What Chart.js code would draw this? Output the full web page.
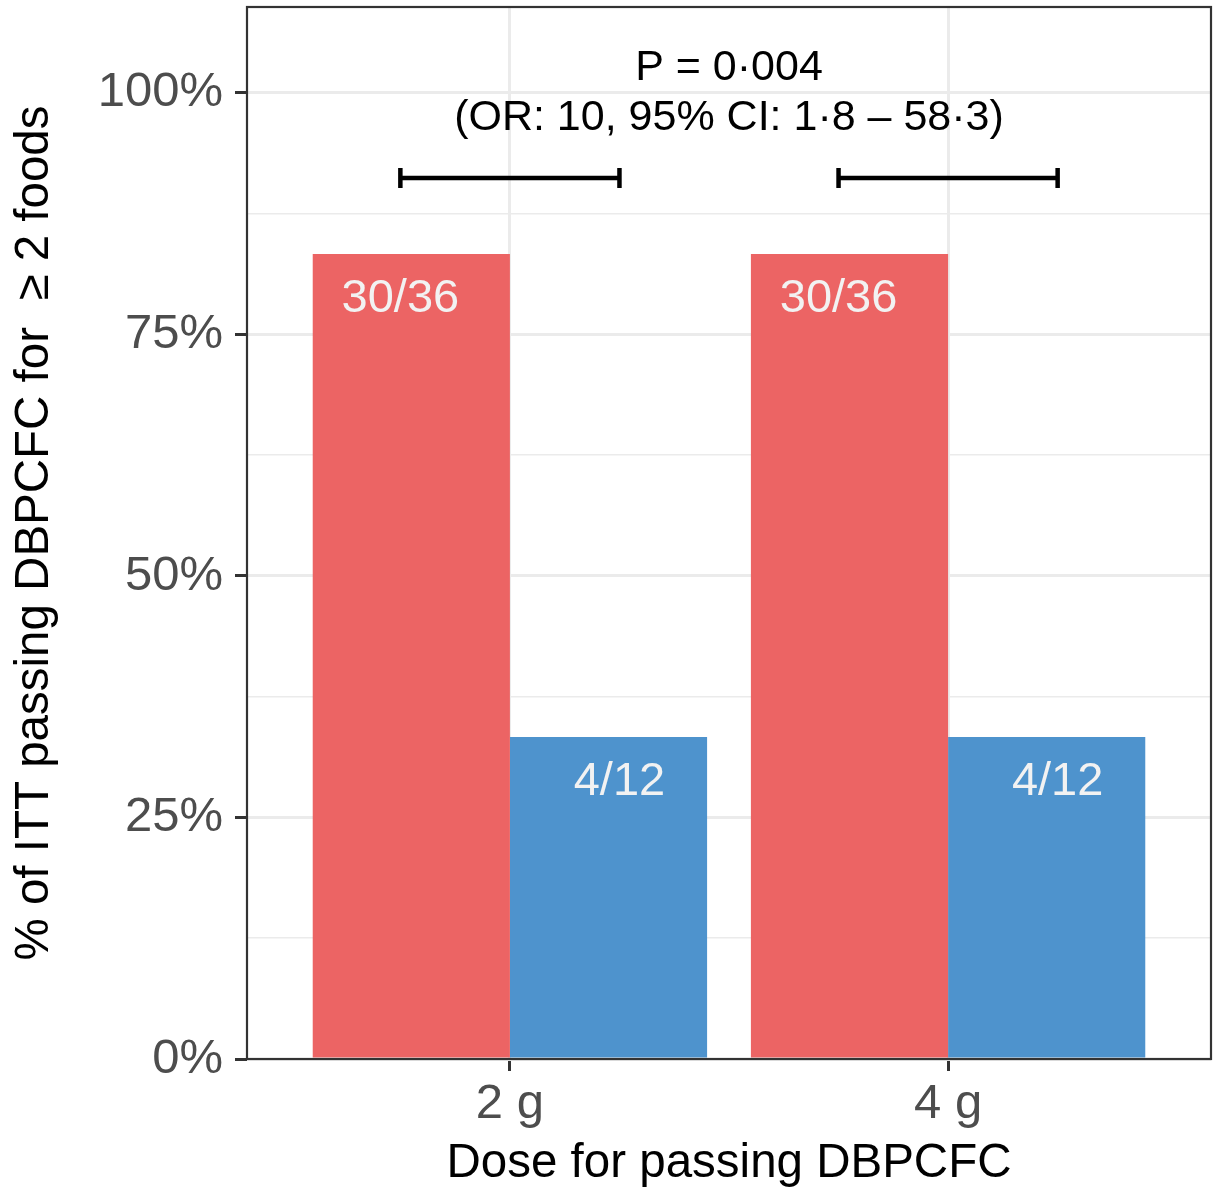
<!DOCTYPE html>
<html>
<head>
<meta charset="utf-8">
<script src="https://cdn.jsdelivr.net/npm/chart.js@4"></script>
<style>
  html, body { margin: 0; padding: 0; background: #fff; }
  canvas { display: block; }
</style>
</head>
<body>
<canvas id="chart" width="1216" height="1191"></canvas>
<script>
const doseLabels   = ["2 g", "4 g"];
const doseX        = [1, 2];
const passA        = [30, 30];   // red group
const totalA       = [36, 36];
const passB        = [4, 4];     // blue group
const totalB       = [12, 12];
const yTicks       = [0, 12.5, 25, 37.5, 50, 62.5, 75, 87.5, 100];
const bracketY     = 91.2;
const bracketHalf  = 0.25;
const statLines    = ["P = 0·004", "(OR: 10, 95% CI: 1·8 – 58·3)"];
const statLineY    = [102.6, 97.4];
const statX        = 1.5;

const RED    = "#EC6464";
const BLUE   = "#4E93CD";
const FONT   = "'Liberation Sans', Arial, Helvetica, sans-serif";
const GRID   = "#EBEBEB";
const DARK   = "#333333";
const LABEL_DROP = 4.7;

Chart.defaults.font.family = FONT;

const pctA = passA.map((n, i) => 100 * n / totalA[i]);
const pctB = passB.map((n, i) => 100 * n / totalB[i]);

function bracketData(center) {
  return [
    { x: center - bracketHalf, y: bracketY },
    { x: center + bracketHalf, y: bracketY }
  ];
}

/* ── Plugin: panel border, labels, titles ─────────────── */
const decorPlugin = {
  id: "decor",
  afterDatasetsDraw(chart) {
    const { ctx, chartArea: a, scales: { x, y } } = chart;
    ctx.save();

    // bar count labels
    ctx.fillStyle = "#F2F2F2";
    ctx.font = `47px ${FONT}`;
    ctx.textAlign = "center";
    ctx.textBaseline = "middle";
    doseX.forEach((d, i) => {
      ctx.fillText(`${passA[i]}/${totalA[i]}`, x.getPixelForValue(d - bracketHalf), y.getPixelForValue(pctA[i] - LABEL_DROP));
      ctx.fillText(`${passB[i]}/${totalB[i]}`, x.getPixelForValue(d + bracketHalf), y.getPixelForValue(pctB[i] - LABEL_DROP));
    });

    // p-value text
    ctx.fillStyle = "#000";
    ctx.font = `43px ${FONT}`;
    statLines.forEach((t, i) => {
      ctx.fillText(t, x.getPixelForValue(statX), y.getPixelForValue(statLineY[i]));
    });

    // panel border
    ctx.strokeStyle = DARK;
    ctx.lineWidth = 2.2;
    ctx.strokeRect(a.left, a.top, a.right - a.left, a.bottom - a.top);

    // axis titles
    ctx.fillStyle = "#000";
    ctx.font = `47.5px ${FONT}`;
    ctx.textBaseline = "alphabetic";
    ctx.fillText("Dose for passing DBPCFC", (a.left + a.right) / 2, 1177);
    ctx.translate(48, (a.top + a.bottom) / 2);
    ctx.rotate(-Math.PI / 2);
    ctx.fillText("% of ITT passing DBPCFC for  \u2265 2 foods", 0, 0);
    ctx.restore();
  }
};

const bracketStyle = {
  type: "line",
  borderColor: "#000",
  borderWidth: 4.5,
  pointStyle: "line",
  pointRadius: 10,
  pointRotation: 90,
  pointBorderWidth: 4.5,
  pointBorderColor: "#000",
  pointHoverRadius: 10,
  fill: false
};

new Chart(document.getElementById("chart"), {
  type: "bar",
  data: {
    datasets: [
      {
        label: "A",
        data: doseX.map((d, i) => ({ x: d, y: pctA[i] })),
        backgroundColor: RED,
        categoryPercentage: 0.9,
        barPercentage: 1.0
      },
      {
        label: "B",
        data: doseX.map((d, i) => ({ x: d, y: pctB[i] })),
        backgroundColor: BLUE,
        categoryPercentage: 0.9,
        barPercentage: 1.0
      },
      Object.assign({ data: bracketData(doseX[0]) }, bracketStyle),
      Object.assign({ data: bracketData(doseX[1]) }, bracketStyle)
    ]
  },
  options: {
    responsive: false,
    animation: false,
    devicePixelRatio: 1,
    layout: { autoPadding: false, padding: { top: 7, right: 5, left: 0, bottom: 0 } },
    plugins: { legend: { display: false }, tooltip: { enabled: false } },
    scales: {
      x: {
        type: "linear",
        min: 0.4,
        max: 2.6,
        offset: false,
        afterBuildTicks: s => { s.ticks = doseX.map(v => ({ value: v })); },
        afterFit: s => {
          s.height = 132;
          s.paddingLeft = 0; s.paddingRight = 0;
        },
        grid: {
          offset: false,
          color: GRID,
          lineWidth: 3,
          tickLength: 12,
          tickColor: DARK,
          tickWidth: 3
        },
        border: { display: false },
        ticks: {
          color: "#4D4D4D",
          font: { size: 49 },
          padding: 4,
          maxRotation: 0,
          autoSkip: false,
          callback: v => doseLabels[doseX.indexOf(v)] ?? ""
        }
      },
      y: {
        min: 0,
        max: 108.9,
        afterBuildTicks: s => { s.ticks = yTicks.map(v => ({ value: v })); },
        afterFit: s => {
          s.width = 247;
          s.paddingTop = 0; s.paddingBottom = 0;
        },
        grid: {
          color: GRID,
          lineWidth: c => (c.tick && c.tick.value % 25 === 0) ? 3 : 1.6,
          tickLength: 12,
          tickColor: c => (c.tick && c.tick.value % 25 === 0) ? DARK : "rgba(0,0,0,0)",
          tickWidth: 3
        },
        border: { display: false },
        ticks: {
          color: "#4D4D4D",
          font: { size: 49 },
          padding: 12,
          autoSkip: false,
          callback: v => (v % 25 === 0 ? `${v}%` : "")
        }
      }
    }
  },
  plugins: [decorPlugin]
});
</script>
</body>
</html>
